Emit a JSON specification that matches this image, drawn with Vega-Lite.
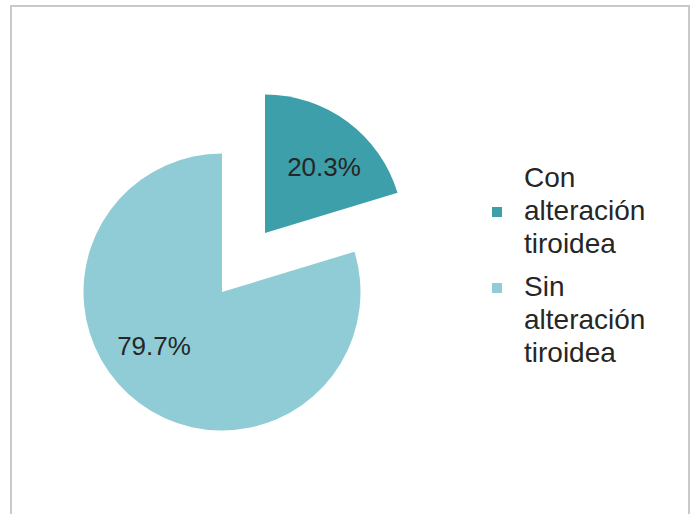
{
  "$schema": "https://vega.github.io/schema/vega-lite/v6.json",
  "width": 678,
  "height": 510,
  "autosize": {"type": "none"},
  "padding": {"left": 11, "top": 6, "right": 5, "bottom": 0},
  "background": "white",
  "view": {"stroke": "#c9c9c9", "strokeWidth": 2, "fill": "white"},
  "config": {"view": {"stroke": "#c9c9c9", "strokeWidth": 2}, "font": "Liberation Sans"},
  "data": {
    "values": [
      {"estado": "Con alteración tiroidea", "porcentaje": 20.3, "etiqueta": "20.3%"},
      {"estado": "Sin alteración tiroidea", "porcentaje": 79.7, "etiqueta": "79.7%"}
    ]
  },
  "encoding": {
    "theta": {"field": "porcentaje", "type": "quantitative", "stack": true},
    "color": {
      "field": "estado",
      "type": "nominal",
      "scale": {"domain": ["Con alteración tiroidea", "Sin alteración tiroidea"], "range": ["#3C9FA9", "#90CCD5"]},
      "legend": {
        "title": null,
        "orient": "none",
        "legendX": 472,
        "legendY": 192,
        "symbolType": "square",
        "symbolSize": 100,
        "symbolStrokeWidth": 0,
        "labelFontSize": 28,
        "labelFont": "Liberation Sans",
        "labelColor": "#262626",
        "labelOffset": 13,
        "labelLimit": 300,
        "rowPadding": 15,
        "padding": 0,
        "labelExpr": "split(datum.label, ' ')",
        "encode": {
          "labels": {
            "update": {
              "lineHeight": {"value": 33},
              "dy": {"signal": "datum.value == 'Con alteración tiroidea' ? -33 : 0"}
            }
          }
        }
      }
    }
  },
  "layer": [
    {
      "mark": {"type": "arc", "outerRadius": 138.5, "xOffset": -85, "yOffset": -28},
      "encoding": {"fillOpacity": {"condition": {"test": "datum.estado == 'Con alteración tiroidea'", "value": 1}, "value": 0}}
    },
    {
      "mark": {"type": "arc", "outerRadius": 138.5, "xOffset": -128, "yOffset": 31},
      "encoding": {"fillOpacity": {"condition": {"test": "datum.estado == 'Sin alteración tiroidea'", "value": 1}, "value": 0}}
    },
    {
      "mark": {"type": "text", "radius": 90, "fontSize": 26, "font": "Liberation Sans", "xOffset": -79.6, "yOffset": -20.7},
      "encoding": {
        "text": {"field": "etiqueta"},
        "color": {"value": "#262626"},
        "opacity": {"condition": {"test": "datum.estado == 'Con alteración tiroidea'", "value": 1}, "value": 0}
      }
    },
    {
      "mark": {"type": "text", "radius": 90, "fontSize": 26, "font": "Liberation Sans", "xOffset": -142.4, "yOffset": 13.7},
      "encoding": {
        "text": {"field": "etiqueta"},
        "color": {"value": "#262626"},
        "opacity": {"condition": {"test": "datum.estado == 'Sin alteración tiroidea'", "value": 1}, "value": 0}
      }
    }
  ]
}
